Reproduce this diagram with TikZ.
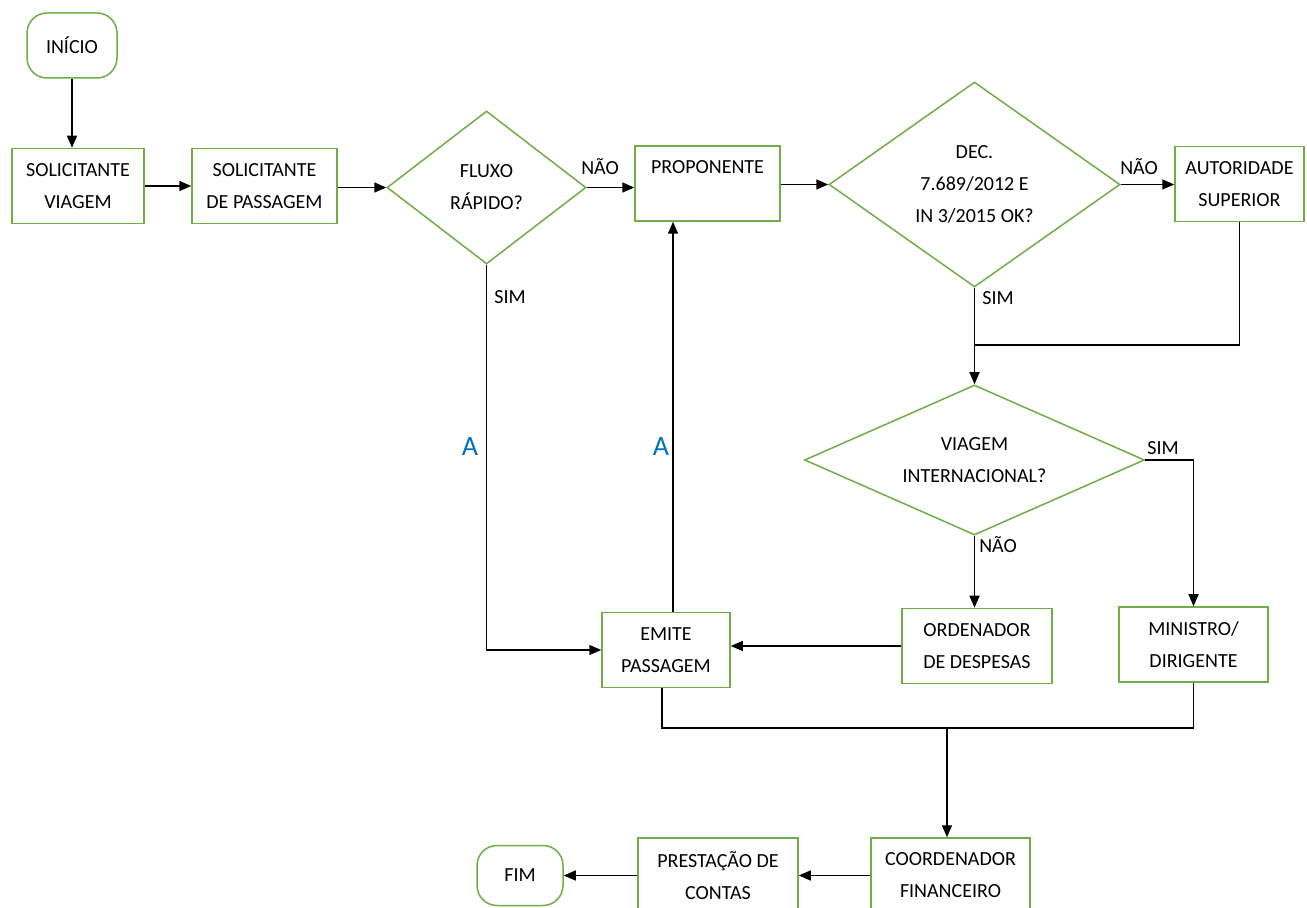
\documentclass[tikz,border=0pt]{standalone}
\usepackage{fontspec}
\setmainfont{Carlito}
\usepackage{xcolor}
\usetikzlibrary{arrows.meta, positioning, shapes.geometric}
\definecolor{boxgreen}{RGB}{112,173,71}
\definecolor{letterblue}{RGB}{0,112,192}

\begin{document}
\begin{tikzpicture}[x=0.5pt,y=-0.5pt,>={Triangle[length=6pt,width=5pt]},
        font=\fontsize{10}{16}\selectfont,
        every node/.style={align=center},
        procbox/.style={draw=boxgreen, line width=0.75pt, rectangle, inner sep=2pt, minimum height=37.5pt},
        decision/.style={draw=boxgreen, line width=0.75pt, diamond, inner sep=0pt},
        terminal/.style={draw=boxgreen, line width=0.75pt, rectangle, rounded corners=10pt},
        conn/.style={line width=0.75pt},
        letterA/.style={text=letterblue, font=\fontsize{14}{16}\selectfont}]
        % \draw[help lines] (0,0) grid[step=100] (1307,908);
      \useasboundingbox (0,0) rectangle (1307,908);
      \clip (0,0) rectangle (1307,908);

      \node[terminal, minimum width=45pt, minimum height=32.5pt] (inicio) at (72,45.5) {INÍCIO};
      \node[procbox, minimum width=66pt]   (solv)   at (78,186)      {SOLICITANTE\\VIAGEM};
      \node[procbox, minimum width=72.5pt] (solp)   at (264.5,186)   {SOLICITANTE\\DE PASSAGEM};
      \node[decision, aspect=1.3, minimum width=99.5pt, minimum height=76.5pt] (fluxo) at (486.5,187.5) {FLUXO\\RÁPIDO?};
      \node[procbox, minimum width=72.5pt] (prop)   at (707.5,183.5) {PROPONENTE\\\mbox{}};
      \node[decision, aspect=1.42, minimum width=145.5pt, minimum height=102.5pt] (dec) at (974.5,184.5) {DEC.\\7.689/2012 E\\IN 3/2015 OK?};
      \node[procbox, minimum width=64.5pt] (aut)    at (1239.5,184)  {AUTORIDADE\\SUPERIOR};
      \node[decision, aspect=2.27, minimum width=170pt, minimum height=75pt] (viagem) at (974.5,460) {VIAGEM\\INTERNACIONAL?};
      \node[procbox, minimum width=75pt]   (ord)    at (977,646)     {ORDENADOR\\DE DESPESAS};
      \node[procbox, minimum width=74.5pt] (min)    at (1193.5,644.5) {MINISTRO/\\DIRIGENTE};
      \node[procbox, minimum width=64pt]   (emite)  at (666,650)     {EMITE\\PASSAGEM};
      \node[procbox, minimum width=79.5pt] (coord)  at (950.5,875.5) {COORDENADOR\\FINANCEIRO};
      \node[procbox, minimum width=80pt]   (prest)  at (718,875.5)   {PRESTAÇÃO DE\\CONTAS};
      \node[terminal, minimum width=43pt, minimum height=30pt] (fim) at (520,875.5) {FIM};

      \coordinate (j1) at (974.5,345);
      \coordinate (j2) at (947,728);

      % labels
      \node (naoA) at (600,167)  {NÃO};
      \node (simA) at (510,297)  {SIM};
      \node (naoB) at (1139,167) {NÃO};
      \node (simB) at (998,298)  {SIM};
      \node (simC) at (1163,448) {SIM};
      \node (naoC) at (998,545)  {NÃO};
      \node[letterA] (la) at (470,447) {A};
      \node[letterA] (lb) at (661,447) {A};

      \path[->,conn] (inicio.south) edge (inicio.south |- solv.north)
                     (solv)   edge (solp)
                     (solp.east |- fluxo.west) edge (fluxo.west)
                     (fluxo.east) edge (fluxo.east -| prop.west)
                     (prop.east |- dec.west) edge (dec.west)
                     (dec.east) edge (dec.east -| aut.west)
                     (dec.south) edge (viagem.north)
                     (viagem.south) edge (viagem.south |- ord.north)
                     (ord.west) edge (ord.west -| emite.east)
                     (coord)  edge (prest)
                     (prest)  edge (fim);
      \draw[conn] (aut.south) |- (j1);
      \draw[->,conn] (viagem.east) -| (min.north);
      \draw[->,conn] (fluxo.south) |- (emite.west);
      \draw[->,conn] ([xshift=3.5pt]emite.north) -- ([xshift=3.5pt]emite.north |- prop.south);
      \draw[conn] ([xshift=-2pt]emite.south) |- (j2) -| (min.south);
      \draw[->,conn] (j2) -- (j2 |- coord.north);
\end{tikzpicture}
\end{document}
